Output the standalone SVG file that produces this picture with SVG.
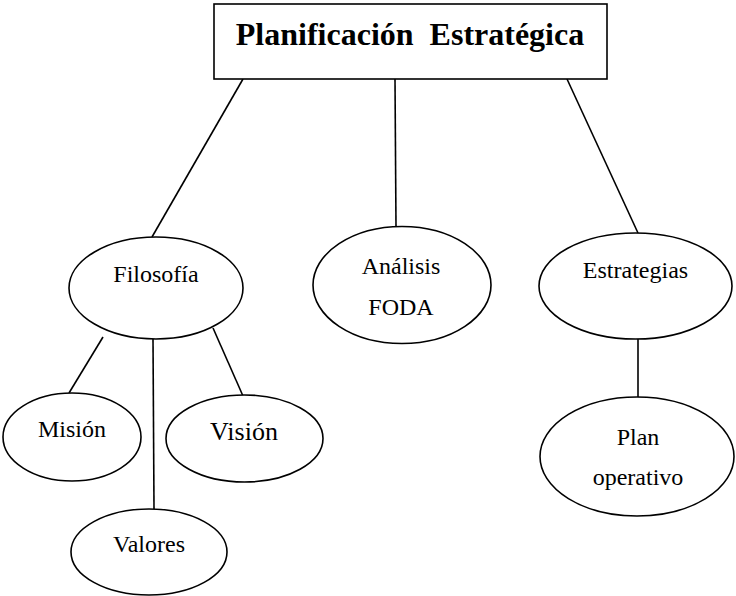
<svg xmlns="http://www.w3.org/2000/svg" width="736" height="596" viewBox="0 0 736 596">
  <style>
    .box { fill: #ffffff; stroke: #000000; stroke-width: 1.6; }
    .node { fill: #ffffff; stroke: #000000; stroke-width: 1.6; }
    .link { stroke: #000000; stroke-width: 1.6; fill: none; }
    .label { font-family: "Liberation Serif", "Times New Roman", serif; font-size: 24px; fill: #000000; text-anchor: middle; }
    .title { font-family: "Liberation Serif", "Times New Roman", serif; font-size: 32px; font-weight: bold; fill: #000000; text-anchor: middle; }
  </style>
  <rect width="736" height="596" fill="#ffffff"/>

  <!-- connectors -->
  <g id="connectors">
    <line class="link" x1="243" y1="79" x2="152" y2="237"/>
    <line class="link" x1="395" y1="79" x2="396" y2="227"/>
    <line class="link" x1="567" y1="79" x2="638" y2="233"/>
    <line class="link" x1="103" y1="337" x2="69" y2="393"/>
    <line class="link" x1="153" y1="339" x2="154" y2="509"/>
    <line class="link" x1="213" y1="328" x2="243" y2="396"/>
    <line class="link" x1="638" y1="339" x2="638" y2="397"/>
  </g>

  <!-- root node -->
  <g id="planificacion">
    <rect class="box" x="214" y="4" width="393" height="75"/>
    <text class="title" x="410" y="45" xml:space="preserve">Planificación  Estratégica</text>
  </g>

  <g id="filosofia">
    <ellipse class="node" cx="156" cy="288" rx="87" ry="51"/>
    <text class="label" x="156" y="282">Filosofía</text>
  </g>

  <g id="analisis-foda">
    <ellipse class="node" cx="402" cy="285" rx="89" ry="58.5"/>
    <text class="label" x="401" y="274">Análisis</text>
    <text class="label" x="401" y="315">FODA</text>
  </g>

  <g id="estrategias">
    <ellipse class="node" cx="635.5" cy="286" rx="96.5" ry="53"/>
    <text class="label" x="635.5" y="278">Estrategias</text>
  </g>

  <g id="mision">
    <ellipse class="node" cx="72" cy="437" rx="69" ry="44"/>
    <text class="label" x="72" y="437">Misión</text>
  </g>

  <g id="vision">
    <ellipse class="node" cx="244.5" cy="438.5" rx="78.5" ry="43.5"/>
    <text class="label" x="244" y="440" style="font-size:26px">Visión</text>
  </g>

  <g id="valores">
    <ellipse class="node" cx="149" cy="552" rx="78" ry="43"/>
    <text class="label" x="149" y="552">Valores</text>
  </g>

  <g id="plan-operativo">
    <ellipse class="node" cx="637" cy="456.5" rx="97" ry="59.5"/>
    <text class="label" x="638" y="445">Plan</text>
    <text class="label" x="638" y="485">operativo</text>
  </g>
</svg>
